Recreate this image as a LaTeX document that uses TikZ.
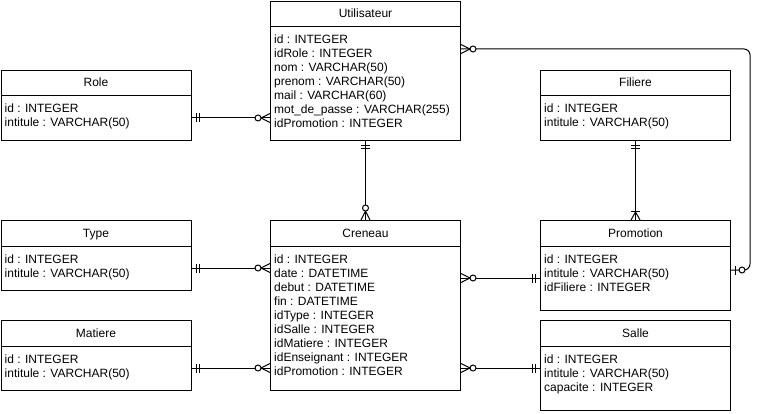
\documentclass[tikz,border=0pt]{standalone}
\usepackage{fontspec}
\setmainfont{Liberation Sans}
\tikzset{
  ebox/.style={draw=black, line width=1pt, minimum width=190pt, inner sep=0pt, anchor=north west},
  etitle/.style={inner sep=0pt, font=\fontsize{12}{14}\selectfont},
  eattr/.style={inner sep=0pt, font=\fontsize{12}{14}\selectfont},
  conn/.style={draw=black, line width=1pt},
}
\newcommand{\entity}[6]{%
  \node[ebox, minimum height=#4pt] (#1) at (#2,#3) {};
  \draw[line width=1pt] ([yshift=-26pt]#1.north west) -- ([yshift=-26pt]#1.north east);
  \node[etitle, anchor=base] (#1-t) at ([yshift=-17pt]#1.north) {#5};
  \foreach \l [count=\i from 0, evaluate=\i as \yy using -43-14*\i] in {#6}
    \node[eattr, anchor=base west] (#1-\i) at ([shift={(4pt,\yy pt)}]#1.north west) {\l};
}
\newcommand{\zeromany}[2]{%
  \begin{scope}[shift={(#1)}, rotate=#2, line width=1pt]
    \draw (-9,0) -- (0,4.5) (-9,0) -- (0,-4.5);
    \draw[fill=white] (-12,0) circle (3);
  \end{scope}}
\newcommand{\mandone}[2]{%
  \begin{scope}[shift={(#1)}, rotate=#2, line width=1pt]
    \draw (-5,-4.5) -- (-5,4.5) (-8,-4.5) -- (-8,4.5);
  \end{scope}}
\newcommand{\zeroone}[2]{%
  \begin{scope}[shift={(#1)}, rotate=#2, line width=1pt]
    \draw (-4,-4.5) -- (-4,4.5);
    \draw[fill=white] (-11,0) circle (3);
  \end{scope}}
\newcommand{\onemany}[2]{%
  \begin{scope}[shift={(#1)}, rotate=#2, line width=1pt]
    \draw (-8,0) -- (0,4.5) (-8,0) -- (0,-4.5);
    \draw (-8,-4.5) -- (-8,4.5);
  \end{scope}}
\begin{document}
\begin{tikzpicture}[x=1pt, y=-1pt]
\useasboundingbox (0,0) rectangle (760,414);
\fill[white] (0,0) rectangle (760,414);

\entity{util}{270}{1}{139}{Utilisateur}{id : INTEGER, idRole : INTEGER, nom : VARCHAR(50), prenom : VARCHAR(50), mail : VARCHAR(60), mot\_de\_passe : VARCHAR(255), idPromotion : INTEGER}
\entity{role}{0.5}{70}{70}{Role}{id : INTEGER, intitule : VARCHAR(50)}
\entity{filiere}{540}{70}{70}{Filiere}{id : INTEGER, intitule : VARCHAR(50)}
\entity{type}{0.5}{220}{70}{Type}{id : INTEGER, intitule : VARCHAR(50)}
\entity{creneau}{270}{220}{170}{Creneau}{id : INTEGER, date : DATETIME, debut : DATETIME, fin : DATETIME, idType : INTEGER, idSalle : INTEGER, idMatiere : INTEGER, idEnseignant : INTEGER, idPromotion : INTEGER}
\entity{promo}{540}{220}{90}{Promotion}{id : INTEGER, intitule : VARCHAR(50), idFiliere : INTEGER}
\entity{matiere}{0.5}{320}{70}{Matiere}{id : INTEGER, intitule : VARCHAR(50)}
\entity{salle}{540}{320}{90}{Salle}{id : INTEGER, intitule : VARCHAR(50), capacite : INTEGER}

% connector ends
\coordinate (r1) at (role.east |- 0,118);
\coordinate (u1) at (util.west |- 0,118);
\coordinate (u2) at (util.south);
\coordinate (c2) at (creneau.north);
\coordinate (u3) at (util.east |- 0,49);
\coordinate (p3) at (promo.east |- 0,270);
\coordinate (f4) at (filiere.south);
\coordinate (p4) at (promo.north);
\coordinate (t5) at (type.east |- 0,268);
\coordinate (c5) at (creneau.west |- 0,268);
\coordinate (c6) at (creneau.east |- 0,278);
\coordinate (p6) at (promo.west |- 0,278);
\coordinate (m7) at (matiere.east |- 0,368);
\coordinate (c7) at (creneau.west |- 0,368);
\coordinate (c8) at (creneau.east |- 0,368);
\coordinate (s8) at (salle.west |- 0,368);
\coordinate (k1) at (750,49);
\coordinate (k2) at (750,270);

\draw[conn] (r1) -- (u1);
\draw[conn] (u2) -- (c2);
\draw[conn, rounded corners=6pt] (u3) -- (k1) -- (k2) -- (p3);
\draw[conn] (f4) -- (p4);
\draw[conn] (t5) -- (c5);
\draw[conn] (c6) -- (p6);
\draw[conn] (m7) -- (c7);
\draw[conn] (c8) -- (s8);

\mandone{r1}{180}
\zeromany{u1}{0}
\mandone{u2}{90}
\zeromany{c2}{-90}
\zeromany{u3}{180}
\zeroone{p3}{180}
\mandone{f4}{90}
\onemany{p4}{-90}
\mandone{t5}{180}
\zeromany{c5}{0}
\zeromany{c6}{180}
\mandone{p6}{0}
\mandone{m7}{180}
\zeromany{c7}{0}
\zeromany{c8}{180}
\mandone{s8}{0}
\end{tikzpicture}
\end{document}
